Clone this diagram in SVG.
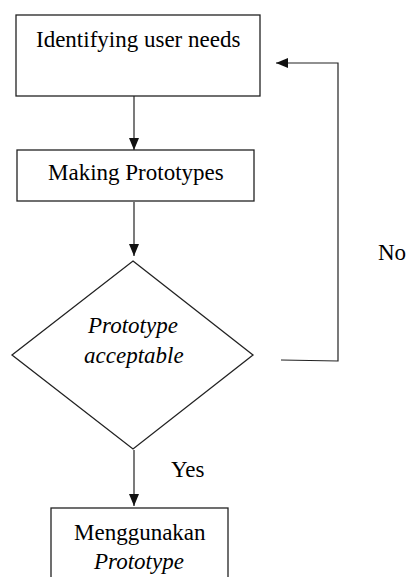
<svg xmlns="http://www.w3.org/2000/svg" width="407" height="577" viewBox="0 0 407 577">
<defs>
<marker id="ah" markerUnits="userSpaceOnUse" markerWidth="12" markerHeight="10" refX="12" refY="5" orient="auto">
<path d="M0,0 L12,5 L0,10 z" fill="#111"/>
</marker>
</defs>
<rect width="407" height="577" fill="#fff"/>
<g id="connectors" fill="none" stroke="#222" stroke-width="1.2">
<line x1="134" y1="96" x2="134" y2="150" marker-end="url(#ah)"/>
<line x1="134" y1="202" x2="134" y2="256" marker-end="url(#ah)"/>
<line x1="134" y1="450" x2="134" y2="506" marker-end="url(#ah)"/>
<polyline points="281,360 338,361 338,63 276,63" marker-end="url(#ah)"/>
</g>
<g id="labels">
<text x="378" y="260" font-family="Times New Roman" font-size="23">No</text>
<text x="171" y="477" font-family="Times New Roman" font-size="23">Yes</text>
</g>
<g id="identify">
<rect x="16" y="15" width="244" height="81" fill="#fff" stroke="#222" stroke-width="1.3"/>
<text x="36" y="47" font-family="Times New Roman" font-size="23">Identifying user needs</text>
</g>
<g id="making">
<rect x="17" y="150" width="237" height="51" fill="#fff" stroke="#222" stroke-width="1.3"/>
<text x="48" y="180" font-family="Times New Roman" font-size="23">Making Prototypes</text>
</g>
<g id="decision">
<polygon points="133,261 253,355 133,449 12,355" fill="#fff" stroke="#222" stroke-width="1.3"/>
<text x="88" y="333" font-family="Times New Roman" font-size="23" font-style="italic">Prototype</text>
<text x="84" y="363" font-family="Times New Roman" font-size="23" font-style="italic">acceptable</text>
</g>
<g id="use">
<rect x="51" y="508" width="177" height="80" fill="#fff" stroke="#222" stroke-width="1.3"/>
<text x="74" y="540" font-family="Times New Roman" font-size="23">Menggunakan</text>
<text x="94" y="569" font-family="Times New Roman" font-size="23" font-style="italic">Prototype</text>
</g>
</svg>
